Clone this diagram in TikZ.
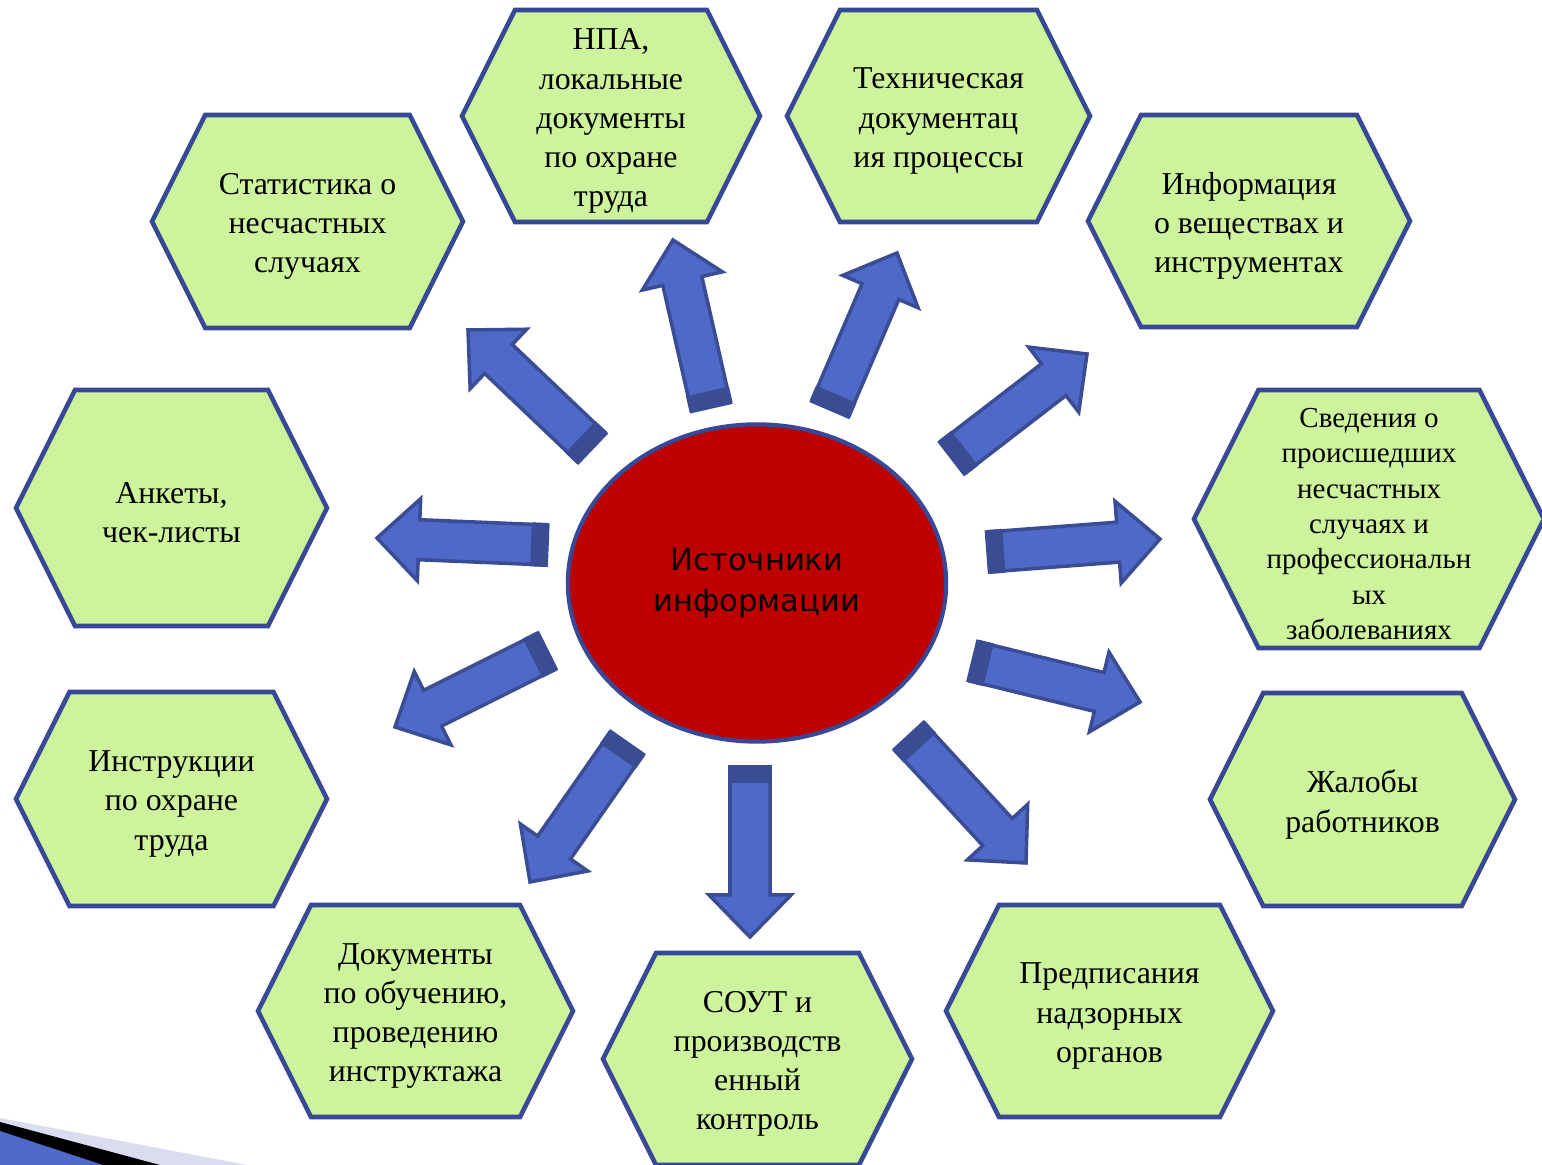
\documentclass[tikz,border=0pt]{standalone}
\usepackage{fontspec}
\setmainfont{Liberation Serif}
\newfontfamily\ovalfont{DejaVu Sans}
\usetikzlibrary{calc,shapes.geometric}
\definecolor{hexgreen}{RGB}{205,243,156}
\definecolor{hexline}{RGB}{55,72,150}
\definecolor{arrowblue}{RGB}{79,105,200}
\definecolor{arrowdark}{RGB}{58,76,148}
\definecolor{ovalred}{RGB}{190,0,0}
\definecolor{lavender}{RGB}{218,220,240}
% block arrow from tail #1 to tip #2
\newcommand{\blockarrow}[2]{%
  \coordinate (m) at ($(#2)!0.42cm!(#1)$);
  \coordinate (k) at ($(#1)!0.16cm!(#2)$);
  \filldraw[arrowbody] ($(#1)!0.2cm!90:(#2)$) -- ($(m)!0.2cm!90:(#2)$)
    -- ($(m)!0.41cm!90:(#2)$) -- (#2) -- ($(m)!0.41cm!-90:(#2)$)
    -- ($(m)!0.2cm!-90:(#2)$) -- ($(#1)!0.2cm!-90:(#2)$) -- cycle;
  \fill[arrowdark] ($(#1)!0.22cm!90:(#2)$) -- ($(k)!0.22cm!90:(#2)$)
    -- ($(k)!0.22cm!-90:(#2)$) -- ($(#1)!0.22cm!-90:(#2)$) -- cycle;
}
\begin{document}
\begin{tikzpicture}[x=0.01cm,y=-0.01cm,
  hexagon/.style={draw=hexline,fill=hexgreen,line width=1.3pt},
  hextext/.style={align=center,yshift=-0.05cm},
  arrowbody/.style={fill=arrowblue,draw=arrowdark,line width=1pt},
  source/.style={ellipse,draw=hexline,fill=ovalred,line width=1.2pt,
    minimum width=3.78cm,minimum height=3.17cm,align=center,
    font=\ovalfont\fontsize{8.7}{11.4}\selectfont}
]
  \useasboundingbox (0,0) rectangle (1542,1165);
  % corner decoration
  \fill[lavender] (0,1118) -- (247,1165) -- (0,1165) -- cycle;
  \fill[black] (0,1122) -- (160,1165) -- (0,1165) -- cycle;
  \fill[arrowblue] (0,1131) -- (103,1165) -- (0,1165) -- cycle;
  % arrows
  \foreach \i/\ax/\ay/\bx/\by in {1/592/448/468/330, 2/711/407/673/240,
      3/830/409/897/253, 4/952/458/1087/354, 5/988/552/1160/539,
      6/973/661/1140/702, 7/909/736/1026/863, 8/750/767/750/937,
      9/627/743/530/882, 10/547/651/395/727, 11/547/545/377/538} {
    \coordinate (t\i) at (\ax,\ay);
    \coordinate (h\i) at (\bx,\by);
    \blockarrow{t\i}{h\i}
  }
  \node[source] (src) at (757,583) {Источники\\информации};
  % sources
  \foreach \n/\x/\y/\w/\h/\fs/\bs/\t in {
      stat/307.5/221.5/155.5/106.5/9.05/11.1/{Статистика о\\несчастных\\случаях},
      npa/611/116/149/106/9.05/11.1/{НПА,\\локальные\\документы\\по охране\\труда},
      tech/938.5/116/151.5/106/9.05/11.1/{Техническая\\документац\\ия процессы},
      info/1249/221/161/106/9.05/11.1/{Информация\\о веществах и\\инструментах},
      sved/1369/519/175/129/8.25/10.05/{Сведения о\\происшедших\\несчастных\\случаях и\\профессиональн\\ых\\заболеваниях},
      zhal/1362.5/799.5/152.5/106.5/9.05/11.1/{Жалобы\\работников},
      predp/1109.5/1011/163.5/106/9.05/11.1/{Предписания\\надзорных\\органов},
      sout/757.5/1059/154.5/106/9.05/11.1/{СОУТ и\\производств\\енный\\контроль},
      docs/415.5/1011/157.5/106/9.05/11.1/{Документы\\по обучению,\\проведению\\инструктажа},
      instr/171.5/799/155.5/107/9.05/11.1/{Инструкции\\по охране\\труда},
      anket/171.5/508/155.5/118/9.05/11.1/{Анкеты,\\чек-листы}} {
    \draw[hexagon] (\x-\w,\y) -- (\x-\w+\h/2,\y-\h) -- (\x+\w-\h/2,\y-\h)
      -- (\x+\w,\y) -- (\x+\w-\h/2,\y+\h) -- (\x-\w+\h/2,\y+\h) -- cycle;
    \node[hextext,font=\fontsize{\fs}{\bs}\selectfont] (\n) at (\x,\y) {\t};
  }
\end{tikzpicture}
\end{document}
